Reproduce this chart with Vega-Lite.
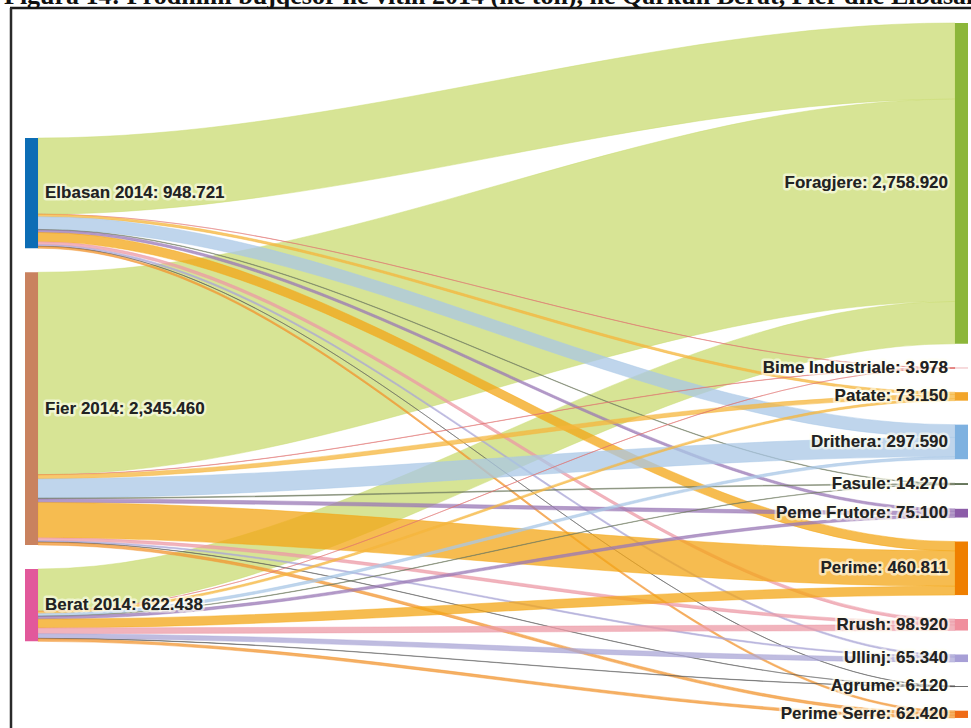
{
  "$schema": "https://vega.github.io/schema/vega-lite/v6.json",
  "width": 971,
  "height": 728,
  "autosize": {"type": "none"},
  "padding": 0,
  "background": "white",
  "config": {"view": {"stroke": null}},
  "datasets": {
    "nodes": [
      {"name": "Elbasan 2014", "col": 0, "ord": 0, "total": 948.721},
      {"name": "Fier 2014", "col": 0, "ord": 1, "total": 2345.46},
      {"name": "Berat 2014", "col": 0, "ord": 2, "total": 622.438},
      {"name": "Foragjere", "col": 1, "ord": 0, "total": 2758.92},
      {"name": "Bime Industriale", "col": 1, "ord": 1, "total": 3.978},
      {"name": "Patate", "col": 1, "ord": 2, "total": 73.15},
      {"name": "Drithera", "col": 1, "ord": 3, "total": 297.59},
      {"name": "Fasule", "col": 1, "ord": 4, "total": 14.27},
      {"name": "Peme Frutore", "col": 1, "ord": 5, "total": 75.1},
      {"name": "Perime", "col": 1, "ord": 6, "total": 460.811},
      {"name": "Rrush", "col": 1, "ord": 7, "total": 98.92},
      {"name": "Ullinj", "col": 1, "ord": 8, "total": 65.34},
      {"name": "Agrume", "col": 1, "ord": 9, "total": 6.12},
      {"name": "Perime Serre", "col": 1, "ord": 10, "total": 62.42}
    ],
    "links": [
      {"s": "Elbasan 2014", "t": "Foragjere", "v": 655},
      {"s": "Fier 2014", "t": "Foragjere", "v": 1740},
      {"s": "Berat 2014", "t": "Foragjere", "v": 363.92},
      {"s": "Elbasan 2014", "t": "Bime Industriale", "v": 1.5},
      {"s": "Elbasan 2014", "t": "Patate", "v": 20},
      {"s": "Elbasan 2014", "t": "Drithera", "v": 110},
      {"s": "Elbasan 2014", "t": "Fasule", "v": 4},
      {"s": "Elbasan 2014", "t": "Peme Frutore", "v": 22},
      {"s": "Elbasan 2014", "t": "Perime", "v": 80},
      {"s": "Elbasan 2014", "t": "Rrush", "v": 25},
      {"s": "Elbasan 2014", "t": "Ullinj", "v": 14},
      {"s": "Elbasan 2014", "t": "Agrume", "v": 1.2},
      {"s": "Elbasan 2014", "t": "Perime Serre", "v": 16.021},
      {"s": "Fier 2014", "t": "Bime Industriale", "v": 2},
      {"s": "Fier 2014", "t": "Patate", "v": 35},
      {"s": "Fier 2014", "t": "Drithera", "v": 165},
      {"s": "Fier 2014", "t": "Fasule", "v": 7},
      {"s": "Fier 2014", "t": "Peme Frutore", "v": 30},
      {"s": "Fier 2014", "t": "Perime", "v": 305},
      {"s": "Fier 2014", "t": "Rrush", "v": 25},
      {"s": "Fier 2014", "t": "Ullinj", "v": 11},
      {"s": "Fier 2014", "t": "Agrume", "v": 2},
      {"s": "Fier 2014", "t": "Perime Serre", "v": 23.46},
      {"s": "Berat 2014", "t": "Bime Industriale", "v": 0.478},
      {"s": "Berat 2014", "t": "Patate", "v": 18.15},
      {"s": "Berat 2014", "t": "Drithera", "v": 22.59},
      {"s": "Berat 2014", "t": "Fasule", "v": 3.27},
      {"s": "Berat 2014", "t": "Peme Frutore", "v": 23.1},
      {"s": "Berat 2014", "t": "Perime", "v": 75.811},
      {"s": "Berat 2014", "t": "Rrush", "v": 48.92},
      {"s": "Berat 2014", "t": "Ullinj", "v": 40.34},
      {"s": "Berat 2014", "t": "Agrume", "v": 2.92},
      {"s": "Berat 2014", "t": "Perime Serre", "v": 22.939}
    ]
  },
  "layer": [
    {
      "data": {"name": "links"},
      "transform": [
        {"lookup": "s", "from": {"data": {"name": "nodes"}, "key": "name", "fields": ["ord"]}, "as": ["si"]},
        {"lookup": "t", "from": {"data": {"name": "nodes"}, "key": "name", "fields": ["ord"]}, "as": ["ti"]},
        {"window": [{"op": "sum", "field": "v", "as": "cs"}], "sort": [{"field": "si"}, {"field": "ti"}]},
        {"window": [{"op": "sum", "field": "v", "as": "ct"}], "sort": [{"field": "ti"}, {"field": "si"}]},
        {"calculate": "datum.cs - datum.v + datum.si * 206 + 989", "as": "p0"},
        {"calculate": "datum.p0", "as": "p1"},
        {"calculate": "datum.ct - datum.v + datum.ti * 206", "as": "p3"},
        {"calculate": "datum.p3", "as": "p2"},
        {"fold": ["p0", "p1", "p2", "p3"], "as": ["k", "top"]},
        {"calculate": "datum.k == 'p0' ? 38 : datum.k == 'p1' ? 40 : datum.k == 'p2' ? 953 : 955", "as": "x"},
        {"calculate": "datum.top + datum.v", "as": "bot"}
      ],
      "mark": {"type": "area", "interpolate": "monotone", "fillOpacity": 0.75, "strokeWidth": 0.9, "strokeOpacity": 0.5},
      "encoding": {
        "x": {"field": "x", "type": "quantitative", "scale": {"domain": [0, 971], "nice": false, "zero": false}, "axis": null},
        "y": {"field": "top", "type": "quantitative", "scale": {"domain": [-197.8, 6063], "reverse": true, "nice": false, "zero": false}, "axis": null},
        "y2": {"field": "bot"},
        "fill": {"field": "t", "type": "nominal", "legend": null, "scale": {
          "domain": ["Foragjere", "Bime Industriale", "Patate", "Drithera", "Fasule", "Peme Frutore", "Perime", "Rrush", "Ullinj", "Agrume", "Perime Serre"],
          "range": ["#cadb72", "#e0706e", "#f5b53c", "#a9c7e6", "#6e7a60", "#9a78b5", "#f3a615", "#ec9aa6", "#aaa6d6", "#555555", "#f29530"]}},
        "stroke": {"field": "t", "type": "nominal", "legend": null, "scale": {
          "domain": ["Foragjere", "Bime Industriale", "Patate", "Drithera", "Fasule", "Peme Frutore", "Perime", "Rrush", "Ullinj", "Agrume", "Perime Serre"],
          "range": ["#cadb72", "#e0706e", "#f5b53c", "#a9c7e6", "#6e7a60", "#9a78b5", "#f3a615", "#ec9aa6", "#aaa6d6", "#555555", "#f29530"]}},
        "detail": {"field": "s"}
      }
    },
    {
      "data": {"name": "nodes"},
      "transform": [
        {"window": [{"op": "sum", "field": "total", "as": "cum"}], "groupby": ["col"], "sort": [{"field": "ord"}]},
        {"calculate": "datum.cum - datum.total + datum.ord * 206 + (datum.col == 0 ? 989 : 0)", "as": "top"},
        {"calculate": "datum.top + datum.total", "as": "bot"},
        {"calculate": "datum.top + datum.total / 2", "as": "mid"},
        {"calculate": "datum.col == 0 ? 25 : 955", "as": "x0"},
        {"calculate": "datum.x0 + 13", "as": "x1"},
        {"calculate": "datum.name + ': ' + format(datum.total, ',.3f')", "as": "label"}
      ],
      "layer": [
        {
          "mark": {"type": "rect"},
          "encoding": {
            "x": {"field": "x0", "type": "quantitative"},
            "x2": {"field": "x1"},
            "y": {"field": "top", "type": "quantitative"},
            "y2": {"field": "bot"},
            "color": {"field": "name", "type": "nominal", "legend": null, "scale": {
              "domain": ["Elbasan 2014", "Fier 2014", "Berat 2014", "Foragjere", "Bime Industriale", "Patate", "Drithera", "Fasule", "Peme Frutore", "Perime", "Rrush", "Ullinj", "Agrume", "Perime Serre"],
              "range": ["#0c6db5", "#c9825f", "#e2589b", "#8cb63a", "#d9606a", "#f2a52a", "#7eb1e0", "#4b5e3f", "#8c5ca8", "#ef7f00", "#f08f9d", "#a79fd6", "#333333", "#ef6b16"]}}
          }
        },
        {
          "transform": [{"filter": "datum.col == 0"}],
          "mark": {"type": "text", "align": "left", "baseline": "middle", "font": "Liberation Sans", "fontWeight": "bold", "fontSize": 17, "fill": "#222222", "stroke": "#fffff2", "strokeWidth": 5, "strokeOpacity": 0.6, "strokeJoin": "round"},
          "encoding": {"x": {"datum": 45}, "y": {"field": "mid", "type": "quantitative"}, "text": {"field": "label"}}
        },
        {
          "transform": [{"filter": "datum.col == 0"}],
          "mark": {"type": "text", "align": "left", "baseline": "middle", "font": "Liberation Sans", "fontWeight": "bold", "fontSize": 17, "fill": "#222222"},
          "encoding": {"x": {"datum": 45}, "y": {"field": "mid", "type": "quantitative"}, "text": {"field": "label"}}
        },
        {
          "transform": [{"filter": "datum.col == 1"}],
          "mark": {"type": "text", "align": "right", "baseline": "middle", "font": "Liberation Sans", "fontWeight": "bold", "fontSize": 17, "fill": "#222222", "stroke": "#fffff2", "strokeWidth": 5, "strokeOpacity": 0.6, "strokeJoin": "round"},
          "encoding": {"x": {"datum": 948}, "y": {"field": "mid", "type": "quantitative"}, "text": {"field": "label"}}
        },
        {
          "transform": [{"filter": "datum.col == 1"}],
          "mark": {"type": "text", "align": "right", "baseline": "middle", "font": "Liberation Sans", "fontWeight": "bold", "fontSize": 17, "fill": "#222222"},
          "encoding": {"x": {"datum": 948}, "y": {"field": "mid", "type": "quantitative"}, "text": {"field": "label"}}
        }
      ]
    },
    {
      "data": {"values": [{}]},
      "layer": [
        {
          "mark": {"type": "rule", "color": "#1a1a1a", "strokeWidth": 2.5},
          "encoding": {"x": {"datum": 10}, "x2": {"datum": 971}, "y": {"datum": -129}}
        },
        {
          "mark": {"type": "rule", "color": "#2a2a2a", "strokeWidth": 2.5},
          "encoding": {"x": {"datum": 11}, "y": {"datum": -129}, "y2": {"datum": 6063}}
        },
        {
          "mark": {"type": "text", "align": "left", "baseline": "alphabetic", "font": "Liberation Serif", "fontWeight": "bold", "fontSize": 26, "color": "#111111", "text": "Figura 14: Prodhimi bujqësor në vitin 2014 (në ton), në Qarkun Berat, Fier dhe Elbasan"},
          "encoding": {"x": {"datum": 4}, "y": {"datum": -163}}
        }
      ]
    }
  ]
}
